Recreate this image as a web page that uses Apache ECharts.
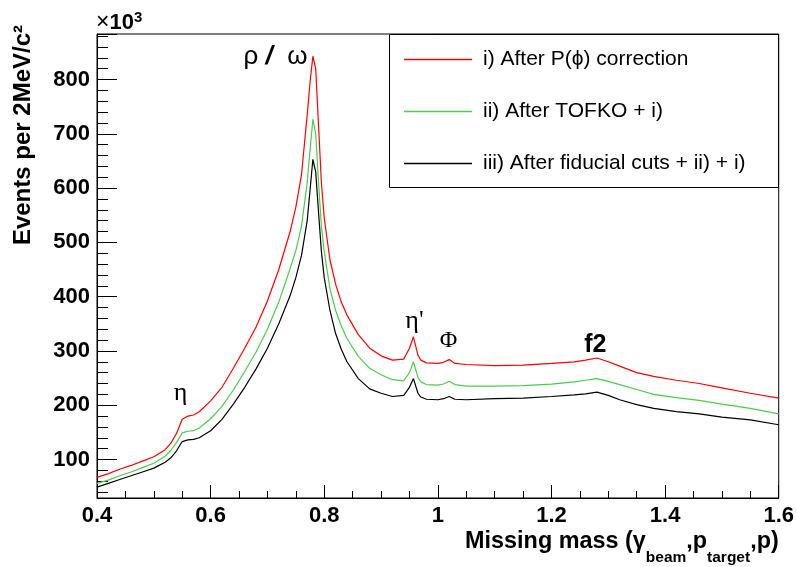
<!DOCTYPE html>
<html><head><meta charset="utf-8">
<script src="https://cdn.jsdelivr.net/npm/echarts@6/dist/echarts.min.js"></script>
<style>html,body{margin:0;padding:0;background:#fff}#c{width:797px;height:567px}</style>
</head><body><div id="c"></div>
<script>
// ---- data ----
const mass = [0.40,0.42,0.44,0.46,0.48,0.50,0.52,0.53,0.54,0.55,0.56,0.57,0.58,0.60,0.62,0.64,0.66,0.68,0.70,0.72,0.74,0.75,0.76,0.77,0.775,0.78,0.785,0.79,0.795,0.80,0.81,0.82,0.83,0.84,0.86,0.88,0.90,0.92,0.94,0.95,0.957,0.965,0.97,0.98,1.00,1.01,1.02,1.03,1.05,1.10,1.15,1.20,1.24,1.26,1.28,1.30,1.32,1.35,1.38,1.42,1.46,1.50,1.55,1.60];
const afterPhi = [67,74,82,89,97,105,118,130,148,174,180,182,188,208,233,268,305,344,392,450,520,565,625,735,795,843,820,715,610,545,468,423,390,366,330,305,291,283,285,305,326,292,283,278,277,279,284,277,275,273,274,277,280,283,287,280,272,260,253,246,240,232,222,213];
const afterTofko = [56,62,70,77,85,93,106,117,131,149,152,153,158,175,198,228,262,298,340,390,452,485,530,610,670,727,700,610,530,483,415,375,346,323,290,268,256,247,245,260,280,251,243,238,237,239,244,238,235,235,236,239,243,246,249,244,238,229,220,214,209,202,194,184];
const afterFiducial = [49,56,63,70,77,84,95,103,116,133,136,137,140,153,174,202,233,267,305,350,402,435,476,540,596,653,630,555,483,435,375,332,303,280,249,230,222,216,218,233,249,222,215,211,210,212,216,211,210,212,213,216,219,221,224,218,210,201,194,188,184,178,173,164];
const seriesNames = ['i) After P(\u03d5) correction', 'ii) After TOFKO + i)', 'iii) After fiducial cuts + ii) + i)'];

// ---- styling / layout ----
const FONT = '"Liberation Sans", Arial, Helvetica, sans-serif';
const SERIF = '"Liberation Serif", "Times New Roman", serif';
const colors = ['#ff0000', '#4ccc4c', '#000000'];
const values = [afterPhi, afterTofko, afterFiducial];
const peakAnchor = { rho: [0.7143, 842], eta: [0.5472, 222], etap: [0.9588, 355], phi: [1.0186, 318], f2: [1.2772, 311] };

const chart = echarts.init(document.getElementById('c'), null, { renderer: 'canvas' });
const axisCol = { color: '#000', width: 1 };
const option = {
  animation: false,
  backgroundColor: '#fff',
  grid: { left: 97, top: 34, width: 682, height: 464, show: true, borderColor: '#000', borderWidth: 1, backgroundColor: 'rgba(0,0,0,0)' },
  xAxis: {
    type: 'value', min: 0.4, max: 1.6, interval: 0.2,
    axisLine: { show: true, lineStyle: axisCol },
    axisTick: { show: true, inside: true, length: 13, lineStyle: axisCol },
    minorTick: { show: true, splitNumber: 4, length: 7, lineStyle: axisCol },
    splitLine: { show: false },
    axisLabel: { color: '#000', fontSize: 22, fontWeight: 'bold', fontFamily: FONT, margin: 7,
      formatter: v => String(Math.round(v * 10) / 10) }
  },
  yAxis: {
    type: 'value', min: 29, max: 884, splitNumber: 8,
    axisLine: { show: true, lineStyle: axisCol },
    axisTick: { show: true, inside: true, length: 20, lineStyle: axisCol },
    minorTick: { show: true, splitNumber: 5, length: 11, lineStyle: axisCol },
    splitLine: { show: false },
    axisLabel: { color: '#000', fontSize: 22, fontWeight: 'bold', fontFamily: FONT, margin: 7,
      formatter: v => (Math.abs(v % 100) < 1e-6 ? String(v) : '') }
  },
  legend: {
    orient: 'vertical', left: 404, top: 49, itemWidth: 68, itemHeight: 1.4, itemGap: 31, padding: 0,
    icon: 'rect',
    textStyle: { color: '#000', fontSize: 21, fontFamily: FONT, padding: [0, 0, 0, 6], lineHeight: 21 },
    data: seriesNames, selectedMode: false, z: 5
  },
  series: seriesNames.map((n, k) => ({
    name: n, type: 'line', symbol: 'none', showSymbol: false, smooth: false,
    lineStyle: { color: colors[k], width: 1.2 }, itemStyle: { color: colors[k] },
    z: 3 - k,
    data: mass.map((m, i) => [m, values[k][i]])
  }))
};
chart.setOption(option);

function px(key) { return chart.convertToPixel({ gridIndex: 0 }, peakAnchor[key]); }
const pRho = px('rho'), pEta = px('eta'), pEtap = px('etap'), pPhi = px('phi'), pF2 = px('f2');
const subStyle = { fontSize: 15.5, fontWeight: 'bold', fontFamily: FONT, fill: '#000', lineHeight: 16, verticalAlign: 'bottom' };
chart.setOption({
  graphic: [
    { type: 'rect', z: 4, shape: { x: 389.5, y: 34.5, width: 389, height: 153 }, style: { fill: '#fff', stroke: '#000', lineWidth: 1 } },
    { type: 'text', z: 6, x: 23, y: 25, rotation: Math.PI / 2,
      style: { text: 'Events per 2MeV/c\u00b2', font: 'bold 24px ' + FONT, fill: '#000', align: 'right', verticalAlign: 'middle' } },
    { type: 'text', z: 6, x: 96, y: 10,
      style: { text: '{m|\u00d7}{b|10}{s|3}', align: 'left', verticalAlign: 'top',
        rich: { m: { fontSize: 23, fontFamily: FONT, fill: '#000', verticalAlign: 'bottom', lineHeight: 24 },
                b: { fontSize: 22, fontWeight: 'bold', fontFamily: FONT, fill: '#000', verticalAlign: 'bottom', lineHeight: 24 },
                s: { fontSize: 15, fontWeight: 'bold', fontFamily: FONT, fill: '#000', verticalAlign: 'top', lineHeight: 15 } } } },
    { type: 'text', z: 6, x: 779, y: 530.5,
      style: { text: '{a|Missing mass (\u03b3}{s|beam}{a|,p}{s|target}{a|,p)}{z| }', align: 'right', verticalAlign: 'top',
        rich: { a: { fontSize: 23.4, fontWeight: 'bold', fontFamily: FONT, fill: '#000', lineHeight: 24, verticalAlign: 'top' },
                s: subStyle,
                z: { fontSize: 1, lineHeight: 35, fill: '#000' } } } },
    { type: 'text', z: 6, x: pRho[0], y: pRho[1],
      style: { text: '{g|\u03c1 }{s|/}{g|  \u03c9}', align: 'center', verticalAlign: 'middle',
        rich: { g: { fontSize: 26, fontFamily: FONT, fill: '#000' }, s: { fontSize: 26, fontWeight: 'bold', fontStyle: 'italic', fontFamily: FONT, fill: '#000' } } } },
    { type: 'text', z: 6, x: pEta[0], y: pEta[1], style: { text: '\u03b7', font: '26px ' + SERIF, fill: '#000', align: 'center', verticalAlign: 'middle' } },
    { type: 'text', z: 6, x: pEtap[0], y: pEtap[1], style: { text: "\u03b7'", font: '26px ' + SERIF, fill: '#000', align: 'center', verticalAlign: 'middle' } },
    { type: 'text', z: 6, x: pPhi[0], y: pPhi[1], style: { text: '\u03a6', font: '24px ' + SERIF, fill: '#000', align: 'center', verticalAlign: 'middle' } },
    { type: 'text', z: 6, x: pF2[0], y: pF2[1], style: { text: 'f2', font: 'bold 25px ' + FONT, fill: '#000', align: 'center', verticalAlign: 'middle' } }
  ]
});
</script></body></html>
